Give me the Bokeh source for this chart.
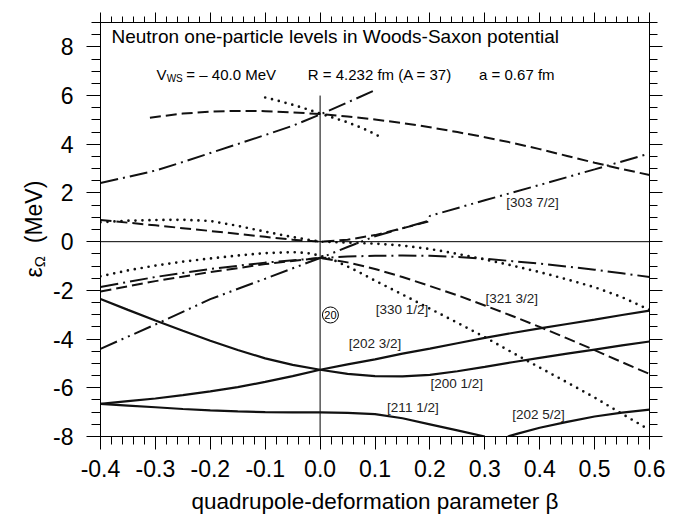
import math
from bokeh.plotting import figure
from bokeh.layouts import row
from bokeh.models import Range1d, LinearAxis, FixedTicker, Label, Span, PrintfTickFormatter
from bokeh.embed import file_html
from bokeh.resources import INLINE

FONT = "Liberation Sans"

# ---------------- data ----------------
x_ticks = [-0.4, -0.3, -0.2, -0.1, 0.0, 0.1, 0.2, 0.3, 0.4, 0.5, 0.6]
x_tick_labels = ["-0.4", "-0.3", "-0.2", "-0.1", "0.0", "0.1", "0.2", "0.3", "0.4", "0.5", "0.6"]
y_ticks = [-8, -6, -4, -2, 0, 2, 4, 6, 8]
y_tick_labels = ["-8", "-6", "-4", "-2", "0", "2", "4", "6", "8"]

# positive parity (solid)
b_202_32 = [-0.4, -0.35, -0.3, -0.25, -0.2, -0.15, -0.1, -0.05, 0.0, 0.05, 0.1, 0.15, 0.2,
            0.25, 0.3, 0.35, 0.4, 0.45, 0.5, 0.55, 0.6]
e_202_32 = [-6.66, -6.55, -6.44, -6.30, -6.15, -5.97, -5.76, -5.52, -5.26, -5.04, -4.83, -4.60,
            -4.39, -4.17, -3.95, -3.75, -3.56, -3.38, -3.20, -3.01, -2.83]

b_200_12 = [-0.4, -0.35, -0.3, -0.25, -0.2, -0.15, -0.1, -0.05, 0.0, 0.05, 0.1, 0.15, 0.2,
            0.25, 0.3, 0.35, 0.4, 0.45, 0.5, 0.55, 0.6]
e_200_12 = [-2.35, -2.80, -3.24, -3.66, -4.07, -4.45, -4.79, -5.06, -5.26, -5.43, -5.52, -5.53,
            -5.47, -5.32, -5.14, -4.95, -4.77, -4.60, -4.43, -4.26, -4.10]

b_211_12 = [-0.4, -0.35, -0.3, -0.25, -0.2, -0.15, -0.1, -0.05, 0.0, 0.05, 0.1, 0.15, 0.2, 0.25, 0.3]
e_211_12 = [-6.66, -6.73, -6.80, -6.87, -6.93, -6.97, -7.00, -7.01, -7.01, -7.03, -7.08, -7.25,
            -7.50, -7.75, -8.00]

b_202_52 = [0.342, 0.36, 0.4, 0.45, 0.5, 0.55, 0.6]
e_202_52 = [-8.00, -7.88, -7.64, -7.40, -7.18, -7.02, -6.90]

# negative parity, Omega = 1/2 (dotted)
b_p_12 = [-0.4, -0.35, -0.3, -0.25, -0.2, -0.15, -0.1, -0.05, 0.0, 0.05, 0.1, 0.15, 0.2,
          0.25, 0.3, 0.35, 0.4, 0.45, 0.5, 0.55, 0.6]
e_p_12 = [0.80, 0.86, 0.89, 0.90, 0.85, 0.65, 0.41, 0.19, 0.00, -0.04, -0.08, -0.16, -0.30,
          -0.50, -0.73, -0.98, -1.25, -1.55, -1.87, -2.28, -2.80]

b_330_12 = [-0.4, -0.35, -0.3, -0.25, -0.2, -0.15, -0.1, -0.05, -0.025, 0.0, 0.025, 0.05, 0.075,
            0.1, 0.15, 0.2, 0.25, 0.3, 0.35, 0.4, 0.45, 0.5, 0.55, 0.6]
e_330_12 = [-1.42, -1.18, -0.98, -0.82, -0.69, -0.57, -0.47, -0.43, -0.46, -0.57, -0.76, -1.02,
            -1.30, -1.60, -2.17, -2.75, -3.33, -3.92, -4.55, -5.17, -5.78, -6.40, -7.07, -7.73]

b_f52_12 = [-0.1, -0.075, -0.05, -0.025, 0.0, 0.025, 0.05, 0.075, 0.1, 0.115]
e_f52_12 = [5.92, 5.78, 5.62, 5.45, 5.26, 5.08, 4.90, 4.68, 4.42, 4.22]

# Omega = 3/2 (dashed)
b_p_32 = [-0.4, -0.3, -0.2, -0.1, -0.05, 0.0, 0.05, 0.1, 0.15, 0.2]
e_p_32 = [0.89, 0.67, 0.44, 0.20, 0.08, 0.00, 0.08, 0.27, 0.55, 0.84]

b_321_32 = [-0.4, -0.3, -0.2, -0.1, 0.0, 0.05, 0.1, 0.15, 0.2, 0.25, 0.3, 0.35, 0.4, 0.45,
            0.5, 0.55, 0.6]
e_321_32 = [-2.05, -1.62, -1.25, -0.92, -0.67, -0.85, -1.12, -1.45, -1.82, -2.20, -2.62, -3.05,
            -3.50, -3.97, -4.45, -4.95, -5.43]

b_f52_32 = [-0.31, -0.25, -0.2, -0.15, -0.1, -0.05, 0.0, 0.05, 0.1, 0.15, 0.2, 0.25, 0.3,
            0.35, 0.4, 0.45, 0.5, 0.55, 0.6]
e_f52_32 = [5.09, 5.26, 5.34, 5.37, 5.36, 5.31, 5.24, 5.14, 5.02, 4.87, 4.70, 4.50, 4.29,
            4.06, 3.80, 3.52, 3.24, 2.98, 2.74]

# Omega = 5/2 (dash-dot)
b_f72_52 = [-0.4, -0.3, -0.2, -0.1, 0.0, 0.05, 0.1, 0.15, 0.2, 0.25, 0.3, 0.35, 0.4, 0.45,
            0.5, 0.55, 0.6]
e_f72_52 = [-1.86, -1.45, -1.12, -0.86, -0.67, -0.61, -0.58, -0.57, -0.58, -0.63, -0.70, -0.80,
            -0.90, -1.02, -1.15, -1.30, -1.45]

b_f52_52 = [-0.4, -0.35, -0.3, -0.25, -0.2, -0.15, -0.1, -0.05, 0.0, 0.05, 0.1]
e_f52_52 = [2.41, 2.66, 2.92, 3.27, 3.64, 4.01, 4.38, 4.76, 5.22, 5.72, 6.22]

# Omega = 7/2 (dash-dot-dot)
b_303_72 = [-0.4, -0.3, -0.2, -0.1, 0.0, 0.05, 0.1, 0.15, 0.195, 0.2, 0.3, 0.4, 0.5, 0.6]
e_303_72 = [-4.40, -3.40, -2.36, -1.52, -0.67, -0.22, 0.22, 0.55, 0.84, 1.06, 1.70, 2.33, 2.97, 3.62]

# level labels: (text, beta, energy)
level_labels = [
    ("[303 7/2]", 0.387, 1.62),
    ("[321 3/2]", 0.349, -2.32),
    ("[330 1/2]", 0.149, -2.80),
    ("[202 3/2]", 0.100, -4.20),
    ("[200 1/2]", 0.249, -5.84),
    ("[211 1/2]", 0.169, -6.79),
    ("[202 5/2]", 0.398, -7.11),
]
magic = ("20", 0.0188, -3.01)

title_text = "Neutron one-particle levels in Woods-Saxon potential"
sub_parts = [("V", 15, -0.298, 6.86), ("WS", 10, -0.2795, 6.69),
             ("= \u2013 40.0 MeV", 15, -0.2436, 6.86),
             ("R = 4.232 fm (A = 37)", 15, -0.0224, 6.86),
             ("a = 0.67 fm", 15, 0.2896, 6.86)]

# y-axis title pieces: (text, font px, x in px of the side strip, energy position)
ylabel_parts = [("(MeV)", 23, 33.0, 1.22), ("\u03b5", 23, 33.0, -1.26), ("\u03a9", 15, 38.6, -0.82)]

Y0, Y1 = -8, 9
TOP, BOTTOM = 22, 85
TOTAL_H = 521
STRIP_W = 50
MAIN_W = 636

# ---------------- y-label strip ----------------
s = figure(width=STRIP_W, height=TOTAL_H, x_range=Range1d(0, STRIP_W), y_range=Range1d(Y0, Y1),
           output_backend="svg", toolbar_location=None, x_axis_location=None, y_axis_location=None,
           min_border_left=0, min_border_right=0, min_border_top=TOP, min_border_bottom=BOTTOM)
s.xgrid.visible = False
s.ygrid.visible = False
s.outline_line_color = None
s.background_fill_color = "white"
s.border_fill_color = "white"
for txt, fs, xx, yy in ylabel_parts:
    s.add_layout(Label(x=xx, y=yy, text=txt, text_font=FONT, text_font_size=f"{fs}px",
                       angle=math.pi / 2, text_align="center", text_baseline="middle",
                       text_color="black"))

# ---------------- main figure ----------------
p = figure(width=MAIN_W, height=TOTAL_H, x_range=Range1d(-0.4, 0.6), y_range=Range1d(Y0, Y1),
           output_backend="svg", toolbar_location=None,
           min_border_left=99 - STRIP_W, min_border_right=MAIN_W - (99 - STRIP_W) - 550,
           min_border_top=TOP, min_border_bottom=BOTTOM)
p.xgrid.visible = False
p.ygrid.visible = False
p.outline_line_color = "black"
p.outline_line_width = 1
p.background_fill_color = "white"
p.border_fill_color = "white"

x_minor = [round(-0.4 + 0.02 * i, 3) for i in range(51)]
y_minor = [-8 + 0.5 * i for i in range(35)]


def style(ax, ticks, minor, labels, major_out, minor_out, fmt):
    ax.ticker = FixedTicker(ticks=ticks, minor_ticks=minor)
    ax.formatter = PrintfTickFormatter(format=fmt)
    ax.major_tick_in = 0
    ax.minor_tick_in = 0
    ax.major_tick_out = major_out
    ax.minor_tick_out = minor_out
    ax.axis_line_color = "black"
    ax.major_tick_line_color = "black"
    ax.minor_tick_line_color = "black"
    ax.major_tick_line_width = 1
    ax.minor_tick_line_width = 1
    ax.axis_line_width = 1
    if labels:
        ax.major_label_overrides = {t: l for t, l in zip(ticks, labels)}
        ax.major_label_text_font = FONT
        ax.major_label_text_font_size = "23px"
        ax.major_label_text_color = "black"
    else:
        ax.major_label_text_color = None
        ax.major_label_text_font_size = "1px"
        ax.major_label_standoff = 0


xb = p.xaxis[0]
style(xb, x_ticks, x_minor, x_tick_labels, 13, 8, "%.1f")
xb.major_label_standoff = 10
xb.axis_label = "quadrupole-deformation parameter \u03b2"
xb.axis_label_text_font = FONT
xb.axis_label_text_font_size = "22.5px"
xb.axis_label_text_font_style = "normal"
xb.axis_label_text_color = "black"
xb.axis_label_standoff = 9

yl = p.yaxis[0]
style(yl, y_ticks, y_minor, y_tick_labels, 14, 9, "%d")
yl.major_label_standoff = 13

xt = LinearAxis()
style(xt, x_ticks, x_minor, None, 10, 6, "%.1f")
p.add_layout(xt, "above")
yr = LinearAxis()
style(yr, y_ticks, y_minor, None, 13, 8, "%d")
p.add_layout(yr, "right")

# reference lines
p.add_layout(Span(location=0, dimension="width", line_color="black", line_width=1))
p.segment(x0=[0.0], y0=[-8.0], x1=[0.0], y1=[6.0], line_color="black", line_width=1)

LC = "#111111"
solid = dict(line_color=LC, line_width=2.2)
dotted = dict(line_color=LC, line_width=2.7, line_dash="0 7", line_cap="round")
dashed = dict(line_color=LC, line_width=2.0, line_dash="11 5")
dashdot = dict(line_color=LC, line_width=2.0, line_dash="18 5 2 5")
dashdotdot = dict(line_color=LC, line_width=2.0, line_dash="18 5 2 5 2 5")

for b, e in [(b_202_32, e_202_32), (b_200_12, e_200_12), (b_211_12, e_211_12), (b_202_52, e_202_52)]:
    p.line(b, e, **solid)
for b, e in [(b_p_12, e_p_12), (b_330_12, e_330_12), (b_f52_12, e_f52_12)]:
    p.line(b, e, **dotted)
for b, e in [(b_p_32, e_p_32), (b_321_32, e_321_32), (b_f52_32, e_f52_32)]:
    p.line(b, e, **dashed)
for b, e in [(b_f72_52, e_f72_52), (b_f52_52, e_f52_52)]:
    p.line(b, e, **dashdot)
p.line(b_303_72, e_303_72, **dashdotdot)

for txt, bx, ey in level_labels:
    p.add_layout(Label(x=bx, y=ey, text=txt, text_font=FONT, text_font_size="13.5px",
                       text_align="center", text_baseline="middle", text_color="#222222"))

p.scatter(x=[magic[1]], y=[magic[2]], marker="circle", size=16, fill_color=None,
          line_color="black", line_width=1)
p.add_layout(Label(x=magic[1], y=magic[2], text=magic[0], text_font=FONT, text_font_size="11px",
                   text_align="center", text_baseline="middle", text_color="black"))

# title & parameters
p.add_layout(Label(x=-0.38, y=8.44, text=title_text, text_font=FONT, text_font_size="19px",
                   text_align="left", text_baseline="middle", text_color="black"))
for txt, fs, bx, ey in sub_parts:
    p.add_layout(Label(x=bx, y=ey, text=txt, text_font=FONT, text_font_size=f"{fs}px",
                       text_align="left", text_baseline="middle", text_color="black"))

layout = row(s, p)
open("out.html", "w").write(file_html(layout, INLINE))
